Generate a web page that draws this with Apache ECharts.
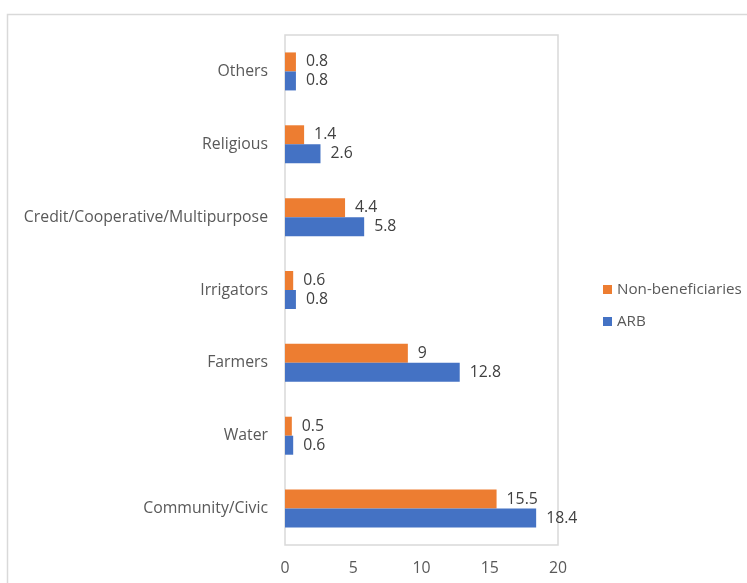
<!DOCTYPE html>
<html>
<head>
<meta charset="utf-8">
<style>
  html, body { margin: 0; padding: 0; background: #fff; }
  #chart { width: 747px; height: 583px; }
</style>
<script src="https://cdn.jsdelivr.net/npm/echarts@6/dist/echarts.min.js"></script>
</head>
<body>
<div id="chart"></div>
<script>
// Organisation types, listed bottom to top
const categories = ['Community/Civic', 'Water', 'Farmers', 'Irrigators', 'Credit/Cooperative/Multipurpose', 'Religious', 'Others'];
const nonBeneficiaries = [15.5, 0.5, 9, 0.6, 4.4, 1.4, 0.8];
const arb = [18.4, 0.6, 12.8, 0.8, 5.8, 2.6, 0.8];
const xTicks = [0, 5, 10, 15, 20];

const FONT = '"Open Sans", Lato, sans-serif';
const FS = 15.8;
const chart = echarts.init(document.getElementById('chart'), null, { renderer: 'canvas' });

const labelStyle = {
  show: true,
  position: 'right',
  distance: 10,
  color: '#404040',
  fontSize: FS,
  fontFamily: FONT,
  padding: [2, 0, 0, 0]
};

chart.setOption({
  animation: false,
  backgroundColor: '#fff',
  textStyle: { fontFamily: FONT },
  graphic: [{
    type: 'rect',
    shape: { x: 7.5, y: 14.5, width: 760, height: 600 },
    style: { fill: 'none', stroke: '#d9d9d9', lineWidth: 1.5 },
    silent: true,
    z: -1
  }],
  grid: {
    left: 285, top: 35, right: 189, bottom: 38,
    show: true, borderColor: '#d9d9d9', borderWidth: 1.5, backgroundColor: 'transparent'
  },
  legend: {
    orient: 'vertical',
    left: 598, top: 277,
    icon: 'rect', itemWidth: 9, itemHeight: 9, itemGap: 17,
    textStyle: { color: '#595959', fontSize: 15.2, fontFamily: FONT },
    data: ['Non-beneficiaries', 'ARB']
  },
  xAxis: {
    type: 'value',
    min: xTicks[0], max: xTicks[xTicks.length - 1], interval: 5,
    axisLine: { show: false }, axisTick: { show: false }, splitLine: { show: false },
    axisLabel: { color: '#595959', fontSize: FS, fontFamily: FONT, margin: 15 }
  },
  yAxis: {
    type: 'category',
    data: categories,
    axisLine: { show: false }, axisTick: { show: false },
    axisLabel: { color: '#595959', fontSize: FS, fontFamily: FONT, margin: 17, padding: [2, 0, 0, 0] }
  },
  series: [
    {
      name: 'Non-beneficiaries', type: 'bar', data: nonBeneficiaries,
      itemStyle: { color: '#ED7D31' }, barWidth: 19, barGap: '0%', barCategoryGap: '48%',
      label: labelStyle
    },
    {
      name: 'ARB', type: 'bar', data: arb,
      itemStyle: { color: '#4472C4' }, barWidth: 19, barGap: '0%',
      label: labelStyle
    }
  ]
});
</script>
</body>
</html>
